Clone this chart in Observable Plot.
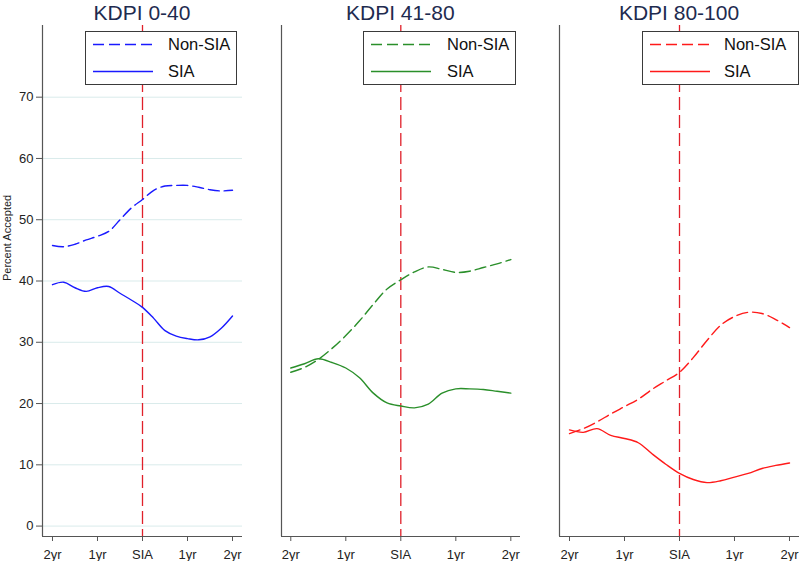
<!DOCTYPE html>
<html>
<head>
<meta charset="utf-8">
<script src="https://cdn.jsdelivr.net/npm/d3@7"></script>
<script src="https://cdn.jsdelivr.net/npm/@observablehq/plot@0.6"></script>
<style>
  html, body { margin: 0; padding: 0; background: #fff; }
  #wrap { position: relative; width: 800px; height: 561px; overflow: hidden; font-family: "Liberation Sans", Arial, sans-serif; }
  .panel { position: absolute; top: 0; }
  .title { position: absolute; top: 2px; font-size: 21px; line-height: 21px; color: #1e2b4f; white-space: nowrap; transform: translateX(-50%); }
  .legend { position: absolute; top: 31px; height: 54px; border: 1px solid #3a3a3a; background: #fff; box-sizing: border-box; }
  .legend svg { position: absolute; left: 0; top: 0; }
  .legend .lab { position: absolute; font-size: 16.5px; line-height: 16px; color: #111; }
</style>
</head>
<body>
<div id="wrap"></div>
<script>
// ---- data ----
const timeYears = [-2, -1.75, -1.5, -1.25, -1, -0.75, -0.5, -0.25, 0, 0.25, 0.5, 0.75, 1, 1.25, 1.5, 1.75, 2];
const xTickValues = [-2, -1, 0, 1, 2];
const xTickLabels = ["2yr", "1yr", "SIA", "1yr", "2yr"];
const yTickValues = [0, 10, 20, 30, 40, 50, 60, 70];
const yAxisLabel = "Percent Accepted";
const panelTitles = ["KDPI 0-40", "KDPI 41-80", "KDPI 80-100"];
const seriesNames = ["Non-SIA", "SIA"];
const panelColors = ["#1a1aff", "#2a8f2a", "#ff1a1a"];

const kdpi0to40NonSIA = [45.8, 45.6, 46.0, 46.7, 47.3, 48.1, 50.0, 51.9, 53.3, 54.8, 55.5, 55.6, 55.6, 55.3, 54.9, 54.7, 54.8];
const kdpi0to40SIA    = [39.4, 39.8, 38.9, 38.3, 38.9, 39.1, 38.0, 36.9, 35.7, 33.9, 31.9, 31.0, 30.6, 30.4, 30.9, 32.3, 34.3];
const kdpi41to80NonSIA = [25.1, 25.9, 27.2, 29.0, 31.1, 33.5, 36.2, 38.7, 40.2, 41.5, 42.3, 41.9, 41.4, 41.6, 42.2, 42.8, 43.5];
const kdpi41to80SIA    = [25.8, 26.5, 27.3, 26.7, 25.8, 24.2, 21.7, 20.1, 19.6, 19.3, 19.9, 21.7, 22.4, 22.4, 22.3, 22.0, 21.7];
const kdpi80to100NonSIA = [15.1, 15.9, 17.0, 18.3, 19.5, 20.7, 22.3, 23.7, 25.1, 27.5, 30.3, 32.8, 34.2, 34.9, 34.7, 33.7, 32.4];
const kdpi80to100SIA    = [15.7, 15.3, 15.9, 14.8, 14.3, 13.6, 11.8, 10.1, 8.6, 7.6, 7.1, 7.4, 8.0, 8.6, 9.4, 9.9, 10.3];

const panelSeries = [
  [kdpi0to40NonSIA, kdpi0to40SIA],
  [kdpi41to80NonSIA, kdpi41to80SIA],
  [kdpi80to100NonSIA, kdpi80to100SIA]
];

// ---- layout ----
const layouts = [
  {left: 0,   width: 250, marginLeft: 42, marginRight: 8,  xDomain: [-2.222, 2.222], yAxis: true,
   legend: {left: 85, width: 152, lineX: 7, textX: 82}},
  {left: 250, width: 280, marginLeft: 31, marginRight: 10, xDomain: [-2.169, 2.176], yAxis: false,
   legend: {left: 363, width: 153, lineX: 7, textX: 83}},
  {left: 530, width: 270, marginLeft: 29, marginRight: 1,  xDomain: [-2.182, 2.182], yAxis: false,
   legend: {left: 642, width: 157, lineX: 7, textX: 81}}
];
const yDomain = [-1.7, 81.7];
const axisColor = "#555";
const dash = "11,5";

const wrap = document.getElementById("wrap");

layouts.forEach((L, i) => {
  const color = panelColors[i];
  const rows = [];
  seriesNames.forEach((name, s) => {
    timeYears.forEach((t, k) => rows.push({t, v: panelSeries[i][s][k], series: name}));
  });
  const marks = [];
  if (L.yAxis) {
    marks.push(Plot.gridY(yTickValues, {stroke: "#d9ebeb", strokeOpacity: 1}));
    marks.push(Plot.axisY(yTickValues, {tickSize: 6, tickPadding: 3, fontSize: 13, label: null, stroke: axisColor, fill: "#222"}));
    marks.push(Plot.text([yAxisLabel], {frameAnchor: "left", dx: -35, rotate: -90, fontSize: 11, fill: "#222"}));
  }
  marks.push(Plot.ruleX([L.xDomain[0]], {stroke: axisColor, strokeWidth: 1.2}));
  marks.push(Plot.ruleY([yDomain[0]], {stroke: axisColor, strokeWidth: 1.2}));
  marks.push(Plot.axisX(xTickValues, {tickSize: 5, tickPadding: 8, fontSize: 13, label: null, stroke: axisColor, fill: "#222",
    tickFormat: (d) => xTickLabels[xTickValues.indexOf(d)]}));
  marks.push(Plot.ruleX([0], {stroke: "#e0202a", strokeWidth: 1.3, strokeDasharray: "13,5"}));
  marks.push(Plot.line(rows.filter(d => d.series === "Non-SIA"), {x: "t", y: "v", stroke: color, strokeWidth: 1.4, strokeDasharray: dash, curve: "catmull-rom"}));
  marks.push(Plot.line(rows.filter(d => d.series === "SIA"), {x: "t", y: "v", stroke: color, strokeWidth: 1.4, curve: "catmull-rom"}));

  const chart = Plot.plot({
    width: L.width, height: 561,
    marginLeft: L.marginLeft, marginRight: L.marginRight, marginTop: 25, marginBottom: 25,
    x: {domain: L.xDomain, axis: null},
    y: {domain: yDomain, axis: null},
    style: {fontFamily: "'Liberation Sans', Arial, sans-serif", fontSize: "13px", background: "transparent", overflow: "visible"},
    marks
  });
  chart.classList.add("panel");
  chart.style.left = L.left + "px";
  wrap.appendChild(chart);

  // title centred on the SIA line
  const sx = L.left + L.marginLeft + (0 - L.xDomain[0]) / (L.xDomain[1] - L.xDomain[0]) * (L.width - L.marginLeft - L.marginRight);
  const title = document.createElement("div");
  title.className = "title";
  title.style.left = sx + "px";
  title.textContent = panelTitles[i];
  wrap.appendChild(title);

  // legend box
  const lg = document.createElement("div");
  lg.className = "legend";
  lg.style.left = L.legend.left + "px";
  lg.style.width = L.legend.width + "px";
  const svgNS = "http://www.w3.org/2000/svg";
  const svg = document.createElementNS(svgNS, "svg");
  svg.setAttribute("width", L.legend.width);
  svg.setAttribute("height", 54);
  seriesNames.forEach((name, s) => {
    const yy = s === 0 ? 12.5 : 39.5;
    const ln = document.createElementNS(svgNS, "line");
    ln.setAttribute("x1", L.legend.lineX);
    ln.setAttribute("x2", L.legend.lineX + 60);
    ln.setAttribute("y1", yy);
    ln.setAttribute("y2", yy);
    ln.setAttribute("stroke", color);
    ln.setAttribute("stroke-width", 1.4);
    if (s === 0) ln.setAttribute("stroke-dasharray", dash);
    svg.appendChild(ln);
    const lab = document.createElement("div");
    lab.className = "lab";
    lab.style.left = L.legend.textX + "px";
    lab.style.top = (yy - 9) + "px";
    lab.textContent = name;
    lg.appendChild(lab);
  });
  lg.insertBefore(svg, lg.firstChild);
  wrap.appendChild(lg);
});
</script>
</body>
</html>
